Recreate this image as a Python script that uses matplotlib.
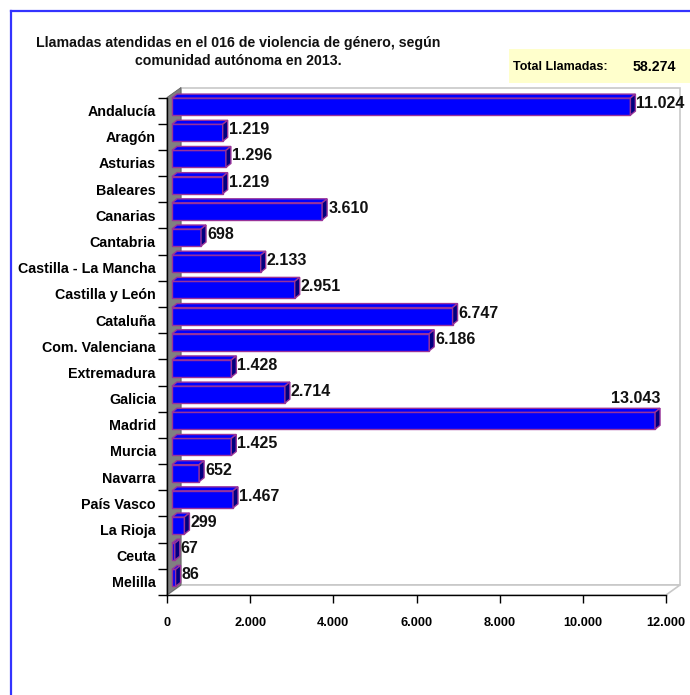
import numpy as np
import matplotlib
matplotlib.use("Agg")
import matplotlib.pyplot as plt
from matplotlib.patches import Polygon, Rectangle
from matplotlib.lines import Line2D

# ── data ─────────────────────────────────────────────────────────────────────
comunidades = [
    "Andalucía", "Aragón", "Asturias", "Baleares", "Canarias", "Cantabria",
    "Castilla - La Mancha", "Castilla y León", "Cataluña", "Com. Valenciana",
    "Extremadura", "Galicia", "Madrid", "Murcia", "Navarra", "País Vasco",
    "La Rioja", "Ceuta", "Melilla",
]
llamadas = [11024, 1219, 1296, 1219, 3610, 698, 2133, 2951, 6747, 6186,
            1428, 2714, 13043, 1425, 652, 1467, 299, 67, 86]
total_llamadas = 58274
x_ticks = [0, 2000, 4000, 6000, 8000, 10000, 12000]
XMAX = 12000

TITLE = "Llamadas atendidas en el 016 de violencia de género, según\ncomunidad autónoma en 2013."

plt.rcParams["font.family"] = ["Liberation Sans", "DejaVu Sans"]


def fmt(v):
    return f"{v:,}".replace(",", ".")


W, H, DPI = 690, 695, 100
fig = plt.figure(figsize=(W / DPI, H / DPI), dpi=DPI)
fig.patch.set_facecolor("white")

# axes frame in pixels (left, top, right, bottom)
L, T, R, B = 167, 97.5, 666, 595
ax = fig.add_axes([L / W, 1 - B / H, (R - L) / W, (B - T) / H])
ax.set_xlim(0, XMAX)
n = len(comunidades)
ax.set_ylim(n - 0.5, -0.5)
ax.patch.set_alpha(0)

DX = XMAX / (R - L)          # data units per pixel, x
DY = n / (B - T)             # data units per pixel, y (up = minus)

# ── 3D walls ────────────────────────────────────────────────────────────────
wx, wy = 14 * DX, 10 * DY
ytop, ybot = -0.5, n - 0.5
ax.add_patch(Polygon([(wx, ytop - wy), (XMAX + wx, ytop - wy),
                      (XMAX + wx, ybot - wy), (wx, ybot - wy)],
                     closed=True, facecolor="white", edgecolor="#c8c8c8",
                     lw=1.2, zorder=0.5, clip_on=False))
ax.add_patch(Polygon([(0, ybot), (XMAX, ybot), (XMAX + wx, ybot - wy), (wx, ybot - wy)],
                     closed=True, facecolor="white", edgecolor="#c8c8c8",
                     lw=1.2, zorder=0.6, clip_on=False))
ax.add_patch(Polygon([(0, ytop), (wx, ytop - wy), (wx, ybot - wy), (0, ybot)],
                     closed=True, facecolor="#808080", edgecolor="#606060",
                     lw=0.6, zorder=0.7, clip_on=False))

# ── 3D bars ─────────────────────────────────────────────────────────────────
shift = 5 * DX
bx, by = 5 * DX, 4 * DY
h = 17 * DY
edge = "#993399"
for i, (name, v) in enumerate(zip(comunidades, llamadas)):
    vd = min(v, XMAX * 0.968)
    yc = i - 4 * DY
    y0, y1 = yc - h / 2, yc + h / 2
    x0, x1 = shift, shift + vd
    ax.add_patch(Rectangle((x0, y0), vd, h, facecolor="#0000ff",
                           edgecolor=edge, lw=1.0, zorder=3, clip_on=False))
    ax.add_patch(Polygon([(x0, y0), (x1, y0), (x1 + bx, y0 - by), (x0 + bx, y0 - by)],
                         closed=True, facecolor="#0000ff", edgecolor=edge,
                         lw=1.0, zorder=3, clip_on=False))
    ax.add_patch(Polygon([(x1, y0), (x1, y1), (x1 + bx, y1 - by), (x1 + bx, y0 - by)],
                         closed=True, facecolor="#000080", edgecolor=edge,
                         lw=1.0, zorder=3, clip_on=False))
    if v > vd:
        ax.text(x1 + bx, y0 - by - 2 * DY, fmt(v), ha="right", va="bottom",
                fontsize=11.5, fontweight="bold", color="#111111", zorder=5)
    else:
        ax.text(x1 + bx + 1 * DX, yc - 3 * DY, fmt(v), ha="left", va="center",
                fontsize=11.5, fontweight="bold", color="#111111", zorder=5)

# ── axes / ticks ────────────────────────────────────────────────────────────
for s in ["top", "right"]:
    ax.spines[s].set_visible(False)
for s in ["left", "bottom"]:
    ax.spines[s].set_color("black")
    ax.spines[s].set_linewidth(1.0)
    ax.spines[s].set_zorder(4)

ax.set_xticks(x_ticks)
ax.set_xticklabels([fmt(t) for t in x_ticks], fontsize=9.2, fontweight="bold")
ax.tick_params(axis="x", length=6, width=1, pad=10, direction="out")

ax.set_yticks(np.arange(-0.5, n, 1.0))
ax.set_yticklabels([])
ax.set_yticks(np.arange(n), minor=True)
ax.set_yticklabels(comunidades, minor=True, fontsize=10.3, fontweight="bold")
ax.tick_params(axis="y", which="major", length=6.5, width=1, direction="out")
ax.tick_params(axis="y", which="minor", length=0, pad=8)

# ── title and total box ─────────────────────────────────────────────────────
fig.text(238 / W, 1 - 52 / H, TITLE, ha="center", va="center",
         fontsize=10.2, fontweight="bold", linespacing=1.35, color="#111111")

fig.patches.append(Rectangle((509 / W, 1 - 83 / H), (W - 509) / W, 34 / H,
                             transform=fig.transFigure, facecolor="#ffffcc",
                             edgecolor="none", zorder=0))
fig.text(513 / W, 1 - 67 / H, "Total Llamadas:", ha="left", va="center",
         fontsize=9.0, fontweight="bold", family=["Liberation Sans Narrow", "Liberation Sans"])
fig.text(676 / W, 1 - 67 / H, fmt(total_llamadas), ha="right", va="center",
         fontsize=10.2, fontweight="bold")

# outer blue frame
fig.add_artist(Line2D([11 / W, 11 / W], [0, 1 - 11 / H], transform=fig.transFigure,
                      color="#3333ff", lw=1.6))
fig.add_artist(Line2D([11 / W, 1], [1 - 11 / H, 1 - 11 / H], transform=fig.transFigure,
                      color="#3333ff", lw=1.6))

fig.savefig("out.png", dpi=DPI, facecolor="white")
